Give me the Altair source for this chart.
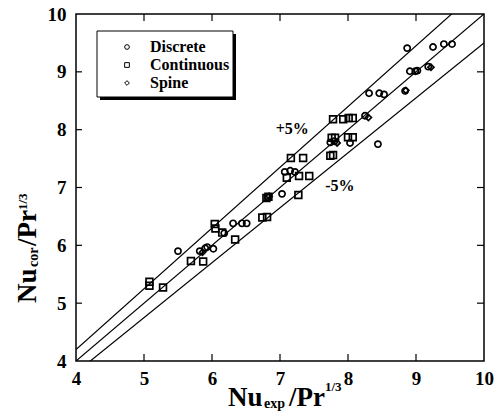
import altair as alt
import pandas as pd

# ---------------- data ----------------
disc_x = [5.50, 5.82, 5.90, 5.93, 6.02, 6.18, 6.31, 6.44, 6.51, 6.82, 7.03,
          7.07, 7.15, 7.22, 7.74, 7.80, 8.03, 8.25, 8.31, 8.46, 8.53, 8.44,
          8.84, 8.87, 8.91, 8.99, 9.02, 9.18, 9.25, 9.41, 9.53]
disc_y = [5.90, 5.90, 5.95, 5.97, 5.94, 6.21, 6.38, 6.38, 6.38, 6.83, 6.89,
          7.27, 7.29, 7.27, 7.78, 7.80, 7.77, 8.24, 8.63, 8.63, 8.61, 7.75,
          8.67, 9.41, 9.01, 9.01, 9.02, 9.09, 9.43, 9.48, 9.48]

cont_x = [5.08, 5.08, 5.28, 5.69, 5.87, 6.04, 6.05, 6.15, 6.34, 6.74, 6.81,
          6.80, 6.83, 7.27, 7.10, 7.28, 7.43, 7.16, 7.34, 7.74, 7.78, 7.76,
          7.81, 8.00, 8.07, 7.78, 7.93, 8.01, 8.07]
cont_y = [5.37, 5.30, 5.27, 5.73, 5.72, 6.37, 6.29, 6.22, 6.10, 6.48, 6.49,
          6.82, 6.84, 6.87, 7.17, 7.20, 7.20, 7.51, 7.51, 7.55, 7.56, 7.86,
          7.86, 7.87, 7.87, 8.18, 8.18, 8.20, 8.20]

spine_x = [5.86, 6.84, 7.84, 8.30, 8.85, 9.22]
spine_y = [5.88, 6.85, 7.77, 8.21, 8.68, 9.08]

line_x = [4.0, 10.0]
line_factor = [1.00, 1.05, 0.95]
tick_vals = [5, 6, 7, 8, 9]
label_vals = [4, 5, 6, 7, 8, 9, 10]

legend_names = ["Discrete", "Continuous", "Spine"]
legend_shapes = ["circle", "square", "diamond"]

FONT = "Liberation Serif"
W, H = 408, 347

# ---------------- tables ----------------
lines_df = pd.DataFrame(
    [{"x": x, "y": x * f, "g": str(f)} for f in line_factor for x in line_x]
)
disc_df = pd.DataFrame({"x": disc_x, "y": disc_y})
cont_df = pd.DataFrame({"x": cont_x, "y": cont_y})
spine_df = pd.DataFrame({"x": spine_x, "y": spine_y})
ticks_df = pd.DataFrame({"v": tick_vals})
one = pd.DataFrame({"a": [0]})

xs = alt.Scale(domain=[4, 10], nice=False, zero=False)
ys = alt.Scale(domain=[4, 10], nice=False, zero=False)

x_axis = alt.Axis(values=label_vals, format="d", ticks=False, domain=False, grid=False,
                  labelFont=FONT, labelFontWeight="bold", labelFontSize=19,
                  labelColor="black", labelPadding=8, labelFlush=False, title=None)
y_axis = alt.Axis(values=label_vals, format="d", ticks=False, domain=False, grid=False,
                  labelFont=FONT, labelFontWeight="bold", labelFontSize=19,
                  labelColor="black", labelPadding=10, labelFlush=False, title=None)

lines = alt.Chart(lines_df).mark_line(color="black", strokeWidth=1.2, clip=True).encode(
    x=alt.X("x:Q", scale=xs, axis=x_axis),
    y=alt.Y("y:Q", scale=ys, axis=y_axis),
    detail="g:N",
)

def pts(df, shape, size):
    return alt.Chart(df).mark_point(shape=shape, filled=False, color="black",
                                    strokeWidth=1.7, size=size, opacity=1).encode(
        x=alt.X("x:Q", scale=xs), y=alt.Y("y:Q", scale=ys))

disc = pts(disc_df, "circle", 38)
cont = pts(cont_df, "square", 46)
spine = pts(spine_df, "diamond", 36)

# inward ticks on all four sides
tb = alt.Chart(ticks_df).mark_rule(color="black", strokeWidth=1.2).encode(
    x=alt.X("v:Q", scale=xs), y=alt.value(H), y2=alt.value(H - 7))
tt = alt.Chart(ticks_df).mark_rule(color="black", strokeWidth=1.2).encode(
    x=alt.X("v:Q", scale=xs), y=alt.value(0), y2=alt.value(7))
tl = alt.Chart(ticks_df).mark_rule(color="black", strokeWidth=1.2).encode(
    y=alt.Y("v:Q", scale=ys), x=alt.value(0), x2=alt.value(6))
tr = alt.Chart(ticks_df).mark_rule(color="black", strokeWidth=1.2).encode(
    y=alt.Y("v:Q", scale=ys), x=alt.value(W), x2=alt.value(W - 7))

# +/-5% labels
pct_df = pd.DataFrame({"x": [7.18, 7.88], "y": [8.01, 7.03], "t": ["+5%", "-5%"]})
pct = alt.Chart(pct_df).mark_text(font=FONT, fontWeight="bold", fontSize=16,
                                  color="black", align="center", baseline="middle").encode(
    x=alt.X("x:Q", scale=xs), y=alt.Y("y:Q", scale=ys), text="t:N")

# legend box with shadow
shadow = alt.Chart(one).mark_rect(color="black").encode(
    x=alt.value(24), x2=alt.value(160), y=alt.value(20), y2=alt.value(86))
box = alt.Chart(one).mark_rect(fill="white", stroke="black", strokeWidth=1).encode(
    x=alt.value(21), x2=alt.value(157), y=alt.value(17), y2=alt.value(83))
leg_y = [33, 51, 69]
leg_layers = []
for name, shape, yy in zip(legend_names, legend_shapes, leg_y):
    leg_layers.append(alt.Chart(one).mark_point(shape=shape, filled=False, color="black",
                                                strokeWidth=1, size=22, opacity=1).encode(
        x=alt.value(51), y=alt.value(yy)))
    leg_layers.append(alt.Chart(one).mark_text(text=name, font=FONT, fontWeight="bold",
                                               fontSize=16, color="black", align="left",
                                               baseline="middle").encode(
        x=alt.value(74), y=alt.value(yy)))

# axis titles built from pieces (sub/superscripts)
def piece(txt, x, y, size, angle=0):
    kw = dict(text=txt, font=FONT, fontWeight="bold", fontSize=size, color="black",
              align="left", baseline="alphabetic")
    if angle:
        kw["angle"] = angle
    return alt.Chart(one).mark_text(**kw).encode(x=alt.value(x), y=alt.value(y))

xt = [piece("Nu", 152, 392, 27), piece("exp", 188, 394, 14),
      piece("/Pr", 213, 392, 27), piece("1/3", 249, 377, 13)]
yt = [piece("Nu", -40, 289, 27, 270), piece("cor", -38, 253, 14, 270),
      piece("/Pr", -40, 232, 27, 270), piece("1/3", -49, 196, 13, 270)]

chart = alt.layer(lines, tb, tt, tl, tr, cont, disc, spine, pct, shadow, box,
                  *leg_layers, *xt, *yt).properties(
    width=W, height=H,
    autosize=alt.AutoSizeParams(type="none"),
    padding={"left": 76, "top": 14, "right": 18, "bottom": 59},
    background="white",
).configure_view(stroke="black", strokeWidth=1.5)

chart.save("out.html", embed_options={"renderer": "svg", "actions": False})
